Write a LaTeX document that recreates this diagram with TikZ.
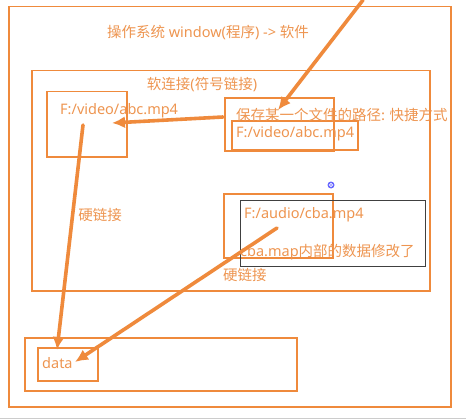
\documentclass[tikz,border=0pt]{standalone}
\usepackage{fontspec}
\setmainfont{Noto Sans}
\newfontfamily\cjk{Noto Sans CJK SC}
\usetikzlibrary{arrows.meta}
\definecolor{ln}{HTML}{EF8A3C}
\definecolor{tx}{HTML}{EE9550}
\begin{document}
\begin{tikzpicture}[x=1pt,y=-1pt,
 box/.style={draw=ln,line width=1.5pt,inner sep=0pt,anchor=north west},
 lbl/.style={text=tx,font=\fontsize{14.5}{16}\selectfont,inner sep=0pt,anchor=west},
 arr/.style={draw=ln,line width=3.6pt,line cap=round,-{Latex[length=13pt,width=12pt]}}]
\useasboundingbox (0,0) rectangle (466,420);
\fill[white] (0,0) rectangle (466,420);
\draw[gray!40,line width=1pt] (0,418) -- (466,418);
% boxes
\node[box,minimum width=442pt,minimum height=400pt] (os) at (8,6) {};
\node[box,minimum width=398pt,minimum height=220pt] (soft) at (31,70) {};
\node[box,minimum width=80pt,minimum height=65pt] (vbox) at (46,91) {};
\node[box,minimum width=109pt,minimum height=53pt] (sc) at (224,97) {};
\node[box,minimum width=126pt,minimum height=29pt] (scin) at (231,120) {};
\node[box,minimum width=109pt,minimum height=64pt] (aud) at (223,193) {};
\node[box,draw=black!75,line width=0.9pt,minimum width=185pt,minimum height=66pt] (blk) at (240,200) {};
\node[box,minimum width=272pt,minimum height=53pt] (bot) at (24,337) {};
\node[box,minimum width=60pt,minimum height=33pt] (dbox) at (37,347) {};
% icon
\node[circle,fill=blue!60,inner sep=0pt,minimum size=7pt] (ico) at (331,185) {};
\draw[white,line width=0.6pt] (ico.center) circle (1.6pt);
% texts
\node[lbl,anchor=center] (title) at (208,33) {{\cjk 操作系统} window({\cjk 程序}) -> {\cjk 软件}};
\node[lbl,anchor=center] (softlbl) at (202,85) {{\cjk 软连接}({\cjk 符号链接})};
\node[lbl] (vtext) at (60,111) {F:/video/abc.mp4};
\node[lbl] (sctext) at (236,115) {\cjk 保存某一个文件的路径: 快捷方式};
\node[lbl] (sc2) at (236,134) {F:/video/abc.mp4};
\node[lbl] (atext) at (244,215) {F:/audio/cba.mp4};
\node[lbl] (amod) at (240,252) {cba.map{\cjk 内部的数据修改了}};
\node[lbl,anchor=center] (hl1) at (100,215) {\cjk 硬链接};
\node[lbl] (hl2) at (223,275) {\cjk 硬链接};
\node[lbl] (data) at (42,363) {data};
% arrows
\coordinate (a1s) at (363,0);
\coordinate (a1e) at (278,110);
\coordinate (a2s) at (223,117);
\coordinate (a2e) at (112,123);
\coordinate (a3s) at (83,125);
\coordinate (a3e) at (57,350);
\coordinate (a4s) at (277,228);
\coordinate (a4e) at (75,362);
\draw[arr] (a1s) -- (a1e);
\draw[arr] (a2s) -- (a2e);
\draw[arr] (a3s) -- (a3e);
\draw[arr] (a4s) -- (a4e);
\end{tikzpicture}
\end{document}
